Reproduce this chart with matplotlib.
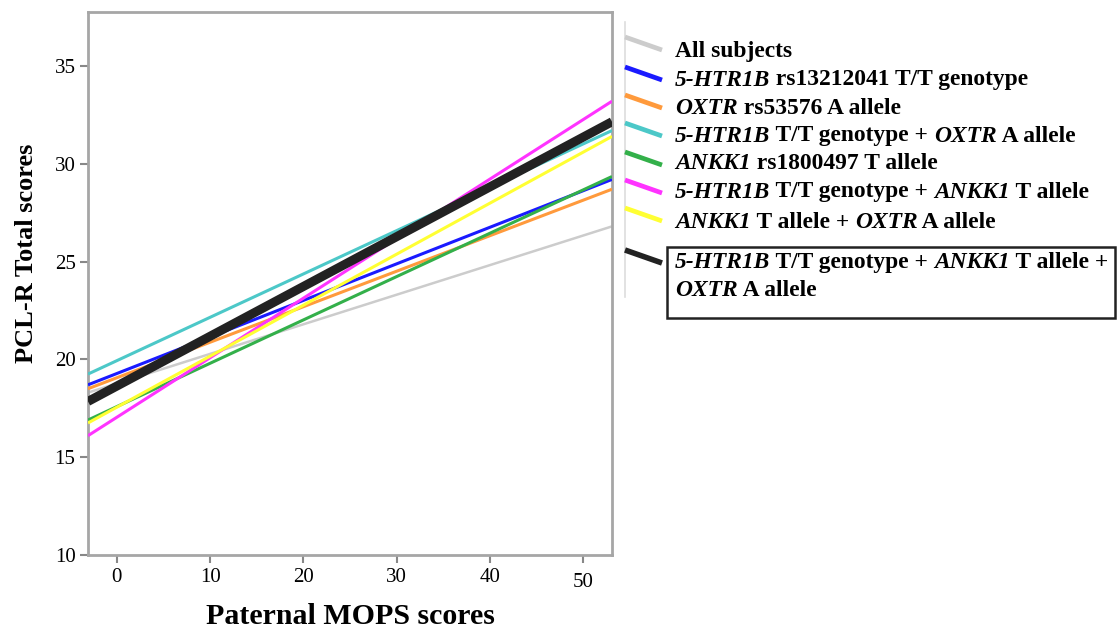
import matplotlib
matplotlib.use("Agg")
import matplotlib.pyplot as plt
from matplotlib.lines import Line2D
from matplotlib.transforms import ScaledTranslation

W, H = 1117, 631
plt.rcParams['font.family'] = ['Liberation Serif', 'DejaVu Serif']

# fitted lines, values read at the two ends of the x range
x_ends = [-3.1, 53.1]
series = ['All subjects', '5-HTR1B T/T', 'OXTR A', '5-HTR1B + OXTR',
          'ANKK1 T', '5-HTR1B + ANKK1', 'ANKK1 + OXTR', 'all three']
y_left = [18.3, 18.7, 18.5, 19.25, 16.9, 16.1, 16.75, 17.85]
y_right = [26.8, 29.2, 28.7, 31.7, 29.35, 33.2, 31.4, 32.15]
colors = ['#cccccc', '#1a1aff', '#ff9a3c', '#4cc8c8', '#33b04a', '#ff33ff', '#ffff33', '#222222']
widths = [1.8, 2.2, 2.2, 2.2, 2.2, 2.2, 2.2, 6.5]

# legend text: (text, italic) pieces
legend_parts = [
    [('All subjects', False)],
    [('5-HTR1B', True), (' rs13212041 T/T genotype', False)],
    [('OXTR', True), (' rs53576 A allele', False)],
    [('5-HTR1B', True), (' T/T genotype + ', False), ('OXTR', True), (' A allele', False)],
    [('ANKK1', True), (' rs1800497 T allele', False)],
    [('5-HTR1B', True), (' T/T genotype + ', False), ('ANKK1', True), (' T allele', False)],
    [('ANKK1', True), (' T allele + ', False), ('OXTR', True), (' A allele', False)],
    [('5-HTR1B', True), (' T/T genotype + ', False), ('ANKK1', True), (' T allele +', False)],
    [('OXTR', True), (' A allele', False)],
]
legend_rows_y = [52, 80, 108, 136, 164, 192, 222, 263, 291]

fig = plt.figure(figsize=(W / 100, H / 100), dpi=100)
ax = fig.add_axes([88 / W, 1 - 555 / H, (612 - 88) / W, (555 - 12) / H])

for i in range(len(series)):
    ax.plot(x_ends, [y_left[i], y_right[i]], color=colors[i], lw=widths[i],
            solid_capstyle='butt', zorder=2 + i)

ax.set_xlim(x_ends)
ax.set_ylim(10, 37.76)
ax.set_xticks([0, 10, 20, 30, 40, 50])
ax.set_yticks([10, 15, 20, 25, 30, 35])
for s in ax.spines.values():
    s.set_color('#a6a6a6')
    s.set_linewidth(2)
ax.tick_params(direction='out', length=6, width=1.5, color='#888888',
               labelsize=15, pad=3)
# the "50" label sits a bit lower in the original
lbl = ax.get_xticklabels()[-1]
lbl.set_transform(lbl.get_transform() + ScaledTranslation(0, -4 / 72, fig.dpi_scale_trans))

ax.set_xlabel('Paternal MOPS scores', fontsize=21.5, fontweight='bold')
ax.xaxis.set_label_coords(0.5, -0.088)
ax.set_ylabel('PCL-R Total scores', fontsize=19, fontweight='bold')
ax.yaxis.set_label_coords(-0.096, 0.555)


def fx(px):
    return px / W


def fy(py):
    return 1 - py / H


# legend frame line
fig.add_artist(Line2D([fx(625), fx(625)], [fy(22), fy(297)], color='#dddddd', lw=1.2))

# legend samples
sample_y = [37, 67, 95, 123, 152, 180, 208, 250]
for i in range(len(series)):
    y0 = sample_y[i]
    y1 = y0 + 13
    lw = 3.4 if i < 7 else 4.0
    fig.add_artist(Line2D([fx(625), fx(662)], [fy(y0), fy(y1)], color=colors[i],
                          lw=lw, solid_capstyle='butt'))

# legend labels
for parts, ry in zip(legend_parts, legend_rows_y):
    prev = None
    for txt, ital in parts:
        style = 'italic' if ital else 'normal'
        if prev is None:
            prev = fig.text(fx(675), fy(ry), txt, fontsize=16.9, fontweight='bold',
                            fontstyle=style, va='center', ha='left')
        else:
            prev = ax.annotate(txt, xy=(1, 0), xycoords=prev, va='bottom', ha='left',
                               fontsize=16.9, fontweight='bold', fontstyle=style,
                               annotation_clip=False)

# box around the last entry
fig.add_artist(plt.Rectangle((fx(667), fy(318)), fx(1115 - 667), (318 - 247) / H,
                             fill=False, edgecolor='#222222', lw=1.8))

fig.savefig('out.png', dpi=100)
